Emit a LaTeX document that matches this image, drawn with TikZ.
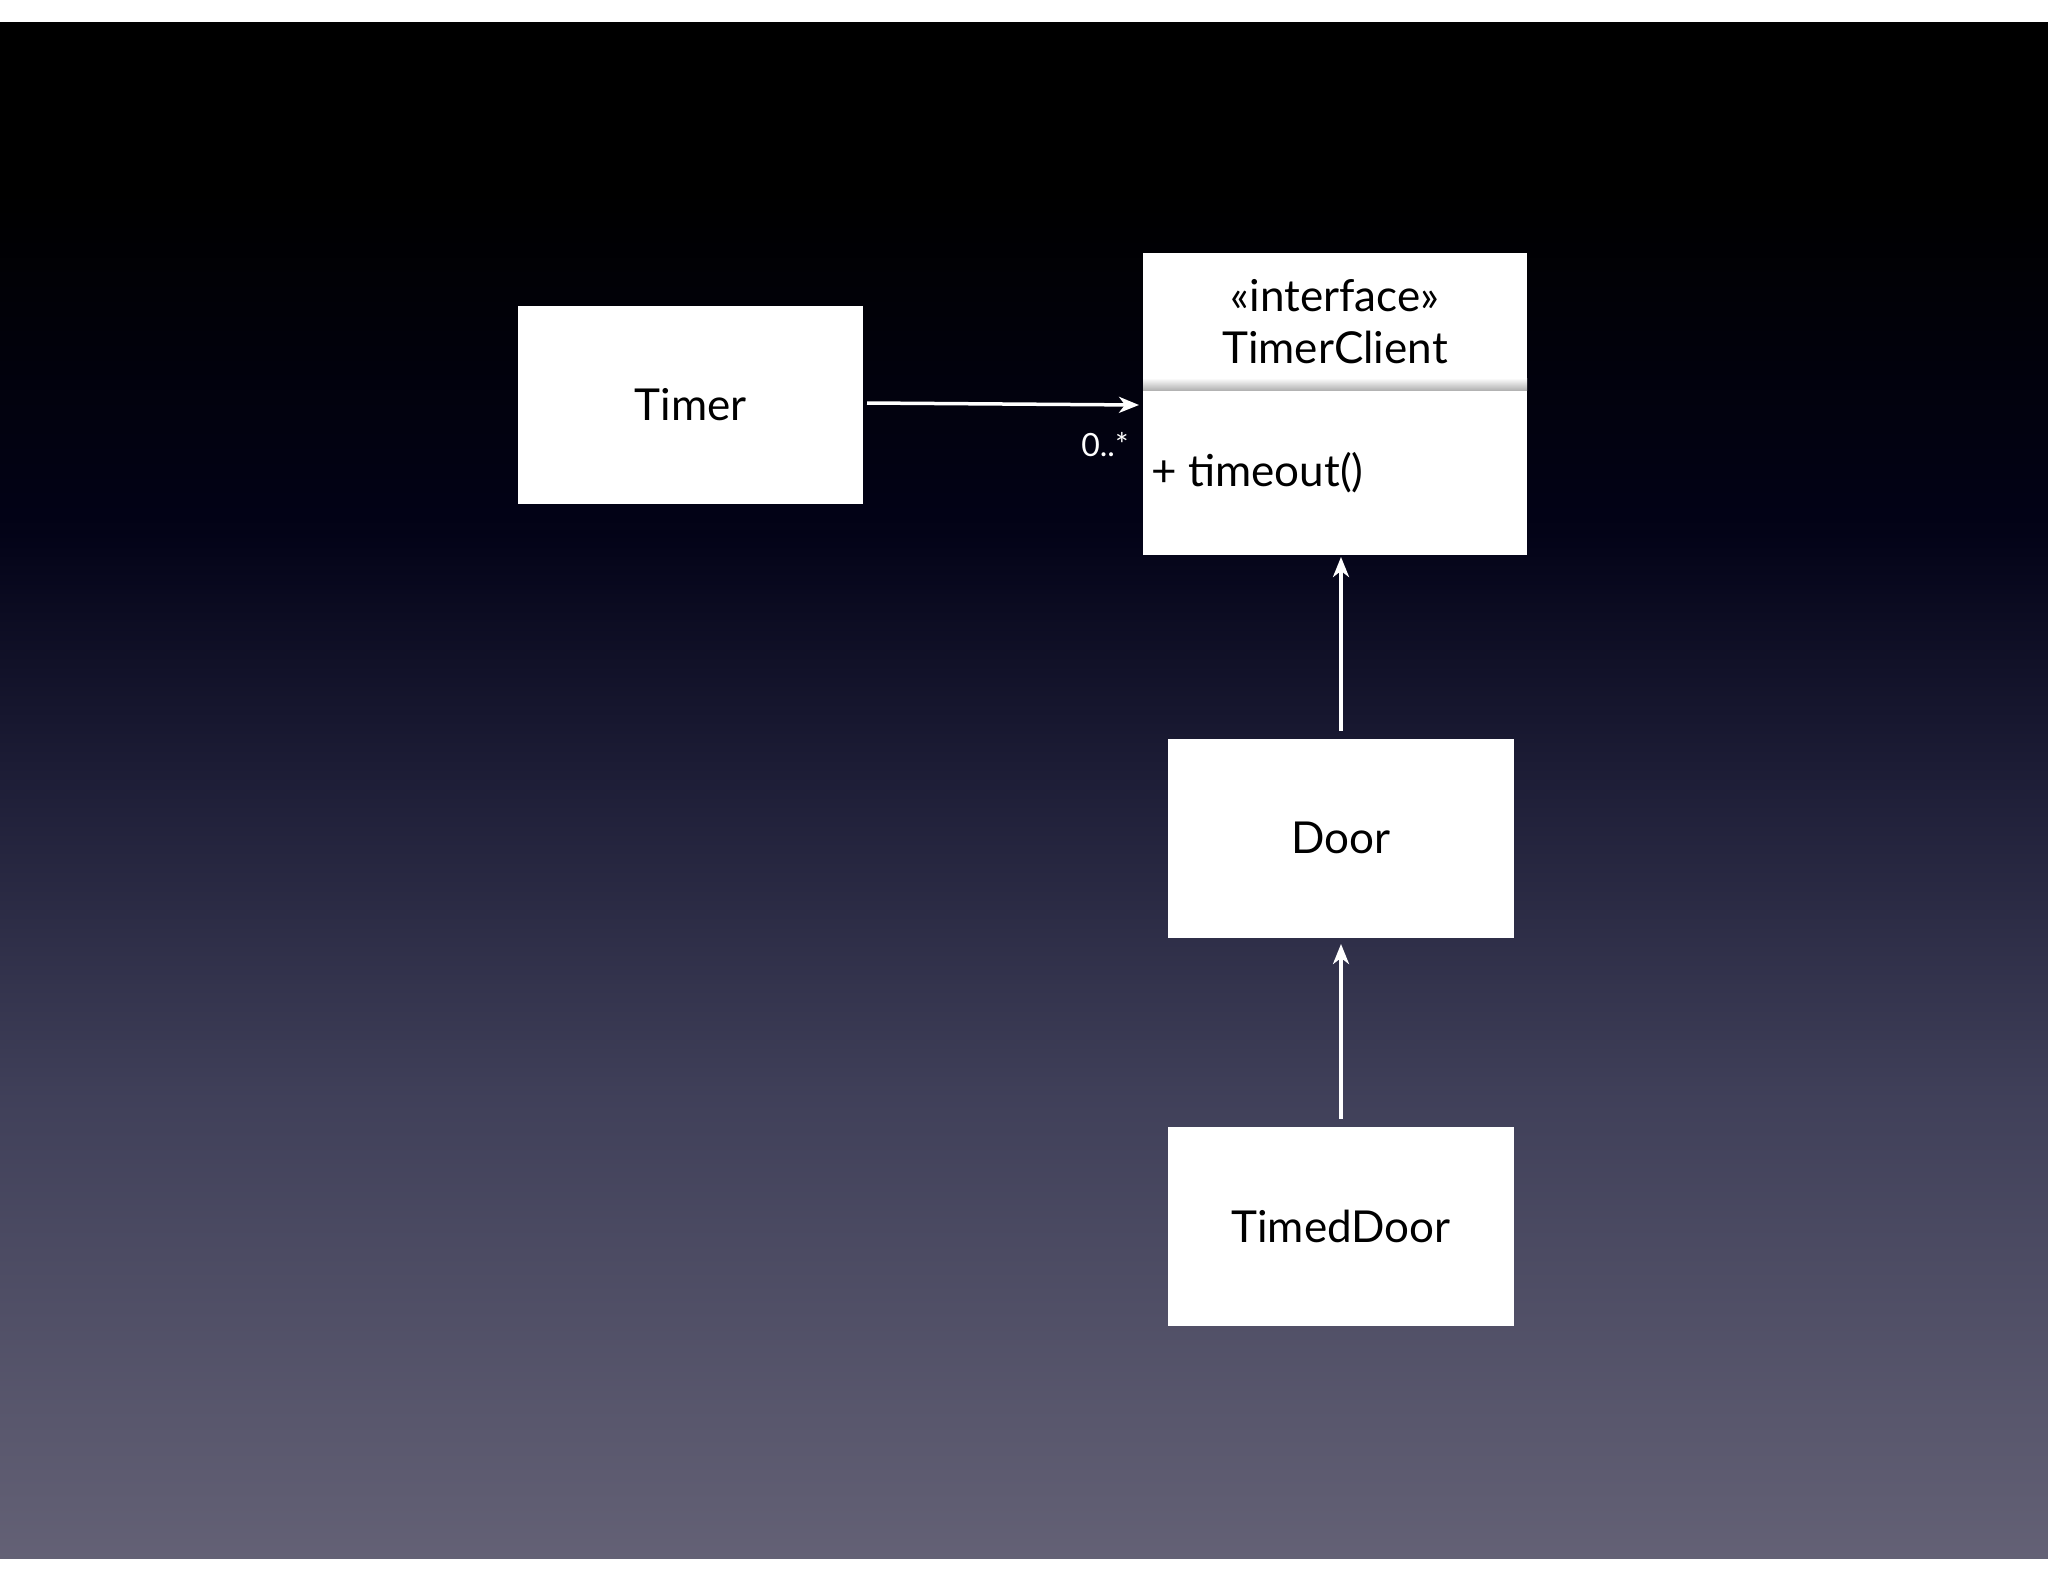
\documentclass[tikz,border=0pt]{standalone}
\usepackage{fontspec}
\setmainfont{Lato}
\usetikzlibrary{arrows.meta}
\definecolor{bgA}{rgb}{0.39,0.38,0.46}
\definecolor{bgB}{rgb}{0.25,0.25,0.35}
\definecolor{bgC}{rgb}{0.12,0.12,0.22}
\definecolor{bgD}{rgb}{0.01,0.01,0.09}
\pgfdeclareverticalshading{bg}{100bp}{
  color(0bp)=(bgA);
  color(25bp)=(bgA);
  color(40bp)=(bgB);
  color(50bp)=(bgC);
  color(58.5bp)=(bgD);
  color(69.5bp)=(black);
  color(100bp)=(black)}
\tikzset{
  box/.style={fill=white, draw=none, inner sep=0pt},
  lbl/.style={font=\fontsize{44}{52}\selectfont, text=black},
  conn/.style={draw=white, line width=3.5pt, -{Stealth[length=20pt,width=16pt,inset=6pt]}}
}
\begin{document}
\begin{tikzpicture}[x=1pt,y=-1pt]
\useasboundingbox (0,0) rectangle (2048,1582);
\fill[white] (0,0) rectangle (2048,1582);
\shade[shading=bg] (0,22) rectangle (2048,1558);
% Timer
\fill[box] (518,306) rectangle (863,504);
\node[lbl] (timer) at (690.5,405) {Timer};
\coordinate (timerE) at (867,403);
% TimerClient
\fill[box] (1143,253) rectangle (1527,555);
\shade[top color=white, bottom color=gray!60] (1143,378) rectangle (1527,390);
\fill[white] (1143,392) rectangle (1527,555);
\node[lbl, align=center] (tch) at (1335,322) {\textless\textless interface\textgreater\textgreater\\TimerClient};
\node[lbl, anchor=west] (tcop) at (1148,473) {+ timeout()};
\coordinate (tcW) at (1139,405);
\coordinate (tcS) at (1341,557);
% Door
\fill[box] (1168,739) rectangle (1514,938);
\node[lbl] (door) at (1341,838) {Door};
\coordinate (doorN) at (1341,731);
\coordinate (doorS) at (1341,944);
% TimedDoor
\fill[box] (1168,1127) rectangle (1514,1326);
\node[lbl] (td) at (1341,1226) {TimedDoor};
\coordinate (tdN) at (1341,1119);
% connectors
\draw[conn] (timerE) -- (tcW);
\node[text=white, font=\fontsize{32}{36}\selectfont] (mult) at (1105,445) {0..*};
\draw[conn] (doorN) -- (tcS);
\draw[conn] (tdN) -- (doorS);
\end{tikzpicture}
\end{document}
